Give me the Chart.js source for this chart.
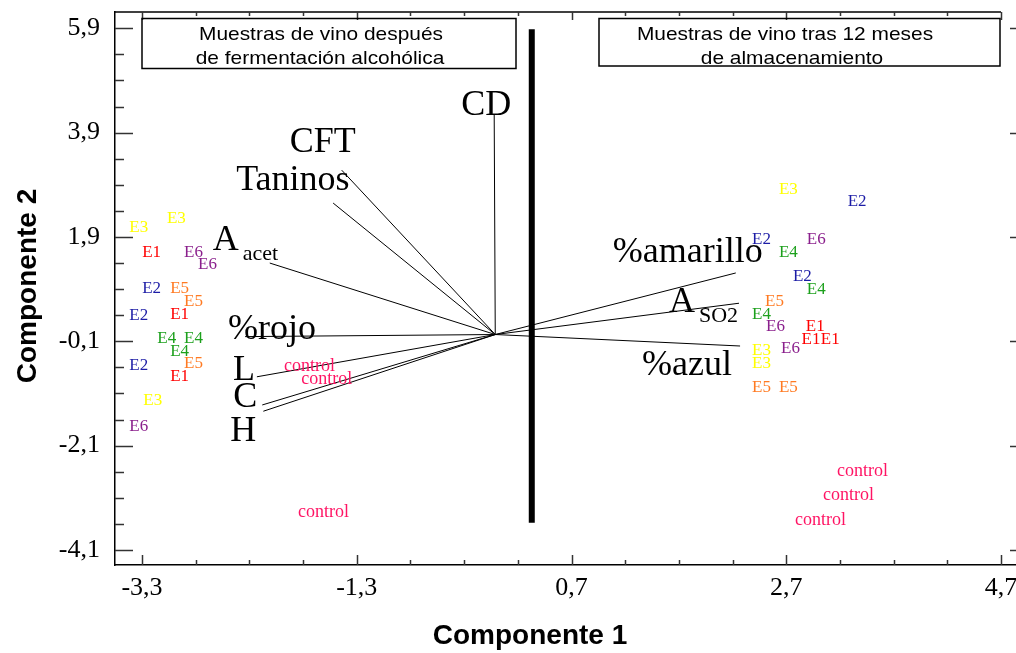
<!DOCTYPE html>
<html>
<head>
<meta charset="utf-8">
<script src="https://cdn.jsdelivr.net/npm/chart.js@4.4.1/dist/chart.umd.min.js"></script>
<style>
  html, body { margin: 0; padding: 0; background: #fff; overflow: hidden; }
  #wrap { width: 1045px; height: 653px; }
</style>
</head>
<body>
<div id="wrap"><canvas id="biplot" width="1045" height="653"></canvas></div>
<script>
// Biplot of the two principal components: wine samples as text labels,
// variable loadings as lines from the origin, and a divider between the
// post-fermentation and 12-month storage groups.

const xTicks = [-3.3, -1.3, 0.7, 2.7, 4.7];
const yTicks = [-4.1, -2.1, -0.1, 1.9, 3.9, 5.9];

const sampleLabels = [
  'E3', 'E3', 'E1', 'E6', 'E6', 'E2', 'E5', 'E5', 'E1', 'E2', 'E4', 'E4', 'E4', 'E5', 'E2', 'E1', 'E3', 'E6',
  'control', 'control', 'control',
  'E3', 'E2', 'E2', 'E6', 'E4', 'E2', 'E4', 'E5', 'E4', 'E6', 'E1', 'E1', 'E1', 'E6', 'E3', 'E3', 'E5', 'E5',
  'control', 'control', 'control'
];
const sampleX = [
  -3.33, -2.98, -3.21, -2.82, -2.69, -3.21, -2.95, -2.82, -2.95, -3.33, -3.07, -2.82, -2.95, -2.82, -3.33, -2.95, -3.20, -3.33,
  -1.74, -1.58, -1.61,
  2.72, 3.36, 2.47, 2.98, 2.72, 2.85, 2.98, 2.59, 2.47, 2.60, 2.97, 2.93, 3.11, 2.74, 2.47, 2.47, 2.47, 2.72,
  3.41, 3.28, 3.02
];
const sampleY = [
  2.09, 2.25, 1.61, 1.61, 1.38, 0.92, 0.92, 0.67, 0.42, 0.40, -0.04, -0.04, -0.29, -0.52, -0.57, -0.77, -1.24, -1.74,
  -0.57, -0.82, -3.37,
  2.80, 2.57, 1.86, 1.86, 1.61, 1.15, 0.90, 0.67, 0.42, 0.19, 0.19, -0.06, -0.06, -0.23, -0.27, -0.52, -0.99, -0.99,
  -2.59, -3.05, -3.53
];

const vectorOrigin = [-0.01, 0.03];
const vectorNames = ['CD', 'CFT', 'Taninos', 'A_acet', '%rojo', 'L', 'C', 'H', '%amarillo', 'A_SO2', '%azul'];
const vectorX = [-0.02, -1.44, -1.52, -2.11, -2.34, -2.23, -2.18, -2.17, 2.23, 2.26, 2.27];
const vectorY = [4.24, 3.18, 2.55, 1.40, -0.01, -0.78, -1.32, -1.44, 1.21, 0.63, -0.19];

const dividerX = 0.33;
const dividerY = [5.88, -3.58];

const boxLeftText = ['Muestras de vino después', 'de fermentación alcohólica'];
const boxRightText = ['Muestras de vino tras 12 meses', 'de almacenamiento'];

const X_MIN = -3.5515, X_MAX = 4.9515;
const Y_MIN = -4.3875, Y_MAX = 6.212;

const GROUP_COLORS = {
  E1: '#ff0000', E2: '#1c1ca6', E3: '#ffff00', E4: '#1ca01c',
  E5: '#ff7a22', E6: '#8a1f8c', control: '#ff1464'
};

// label placement relative to the loading's end point, in pixels (left, baseline)
const VECTOR_LABEL_AT = {
  'CD': [-33, 0], 'CFT': [-52, -18], 'Taninos': [-97, -13], 'A_acet': [-57, -13],
  '%rojo': [-17, 2], 'L': [-24, 3], 'C': [-29, 2], 'H': [-33, 30],
  '%amarillo': [-123, -11], 'A_SO2': [-70, 9], '%azul': [-98, 29]
};

const SERIF = '"Liberation Serif", "Times New Roman", serif';
const SANS = '"Liberation Sans", Arial, sans-serif';

const fmt = (v) => Number(v).toFixed(1).replace('.', ',');

const datasets = [];
datasets.push({
  label: 'samples',
  data: sampleX.map((x, i) => ({ x, y: sampleY[i] })),
  pointRadius: 0,
  showLine: false
});
vectorNames.forEach((name, i) => {
  datasets.push({
    label: name,
    data: [{ x: vectorOrigin[0], y: vectorOrigin[1] }, { x: vectorX[i], y: vectorY[i] }],
    showLine: true,
    borderColor: '#000',
    borderWidth: 1,
    pointRadius: 0
  });
});
datasets.push({
  label: 'divider',
  data: dividerY.map((y) => ({ x: dividerX, y })),
  showLine: true,
  borderColor: '#000',
  borderWidth: 6,
  borderCapStyle: 'butt',
  pointRadius: 0
});

function line(ctx, x1, y1, x2, y2) {
  ctx.beginPath();
  ctx.moveTo(x1, y1);
  ctx.lineTo(x2, y2);
  ctx.stroke();
}

// text drawn slightly widened, as in the source figure
function wideText(ctx, text, x, y, stretch) {
  ctx.save();
  ctx.translate(x, y);
  ctx.scale(stretch, 1);
  ctx.fillText(text, 0, 0);
  ctx.restore();
}

const biplotPlugin = {
  id: 'biplot-decor',
  afterDraw(chart) {
    const { ctx, chartArea: a } = chart;
    const xs = chart.scales.x;
    const ys = chart.scales.y;
    ctx.save();

    // top frame line stops at the last major tick
    const xEnd = xs.getPixelForValue(xTicks[xTicks.length - 1]);
    ctx.strokeStyle = '#000';
    ctx.lineWidth = 1.5;
    line(ctx, a.left, a.top, xEnd, a.top);

    // inward tick marks, majors every 2 units and minors every 0.5
    ctx.strokeStyle = '#333';
    ctx.lineWidth = 1.5;
    for (let k = 0; k <= 16; k++) {
      const v = xTicks[0] + k * 0.5;
      const px = Math.round(xs.getPixelForValue(v)) + 0.5;
      const major = k % 4 === 0;
      line(ctx, px, a.bottom, px, a.bottom - (major ? 10 : 5));
      line(ctx, px, a.top, px, a.top + (major ? 8 : 4));
    }
    for (let k = 0; k <= 20; k++) {
      const v = yTicks[0] + k * 0.5;
      const py = Math.round(ys.getPixelForValue(v)) + 0.5;
      const major = k % 4 === 0;
      line(ctx, a.left, py, a.left + (major ? 18 : 9), py);
      line(ctx, a.right, py, a.right - (major ? 18 : 9), py);
    }

    // sample labels at their points
    const meta = chart.getDatasetMeta(0);
    ctx.textAlign = 'center';
    ctx.textBaseline = 'middle';
    meta.data.forEach((el, i) => {
      const name = sampleLabels[i];
      ctx.fillStyle = GROUP_COLORS[name];
      ctx.font = (name === 'control' ? '18px ' : '17px ') + SERIF;
      ctx.fillText(name, el.x, el.y);
    });

    // loading labels
    ctx.fillStyle = '#000';
    ctx.textAlign = 'left';
    ctx.textBaseline = 'alphabetic';
    vectorNames.forEach((name, i) => {
      const end = chart.getDatasetMeta(i + 1).data[1];
      const [dx, dy] = VECTOR_LABEL_AT[name];
      const lx = end.x + dx, ly = end.y + dy;
      const parts = name.split('_');
      ctx.font = '36px ' + SERIF;
      ctx.fillText(parts[0], lx, ly);
      if (parts[1]) {
        const w = ctx.measureText(parts[0]).width;
        ctx.font = '22px ' + SERIF;
        ctx.fillText(parts[1], lx + w + 4, ly + 10);
      }
    });

    // group boxes
    ctx.strokeStyle = '#000';
    ctx.lineWidth = 1.5;
    ctx.strokeRect(142, 18.5, 374, 50);
    ctx.strokeRect(599, 18.5, 401, 47.5);
    ctx.font = '19px ' + SANS;
    ctx.textAlign = 'center';
    ctx.fillStyle = '#000';
    wideText(ctx, boxLeftText[0], 321, 39.5, 1.1);
    wideText(ctx, boxLeftText[1], 320, 63.5, 1.1);
    wideText(ctx, boxRightText[0], 785, 39.5, 1.1);
    wideText(ctx, boxRightText[1], 792, 63.5, 1.1);

    // axis titles
    ctx.font = 'bold 28px ' + SANS;
    ctx.textBaseline = 'middle';
    ctx.fillText('Componente 1', 530, 636);
    ctx.translate(28, 286);
    ctx.rotate(-Math.PI / 2);
    ctx.fillText('Componente 2', 0, 0);

    ctx.restore();
  }
};

const tickFont = { family: SERIF, size: 26 };

new Chart(document.getElementById('biplot'), {
  type: 'scatter',
  data: { datasets },
  options: {
    responsive: false,
    animation: false,
    events: [],
    layout: { padding: { left: 0, right: 17, top: 12, bottom: 0 } },
    plugins: { legend: { display: false }, tooltip: { enabled: false } },
    scales: {
      x: {
        type: 'linear', min: X_MIN, max: X_MAX,
        afterBuildTicks: (s) => { s.ticks = xTicks.map((value) => ({ value })); },
        afterFit: (s) => { s.height = 88; s.paddingLeft = 0; s.paddingRight = 0; },
        grid: { display: false, drawTicks: false },
        border: { display: true, color: '#000', width: 1.5 },
        ticks: { font: tickFont, color: '#000', padding: 8, maxRotation: 0, autoSkip: false, callback: fmt }
      },
      y: {
        type: 'linear', min: Y_MIN, max: Y_MAX,
        afterBuildTicks: (s) => { s.ticks = yTicks.map((value) => ({ value })); },
        afterFit: (s) => { s.width = 115; s.paddingTop = 0; s.paddingBottom = 0; },
        grid: { display: false, drawTicks: false },
        border: { display: true, color: '#000', width: 1.5 },
        ticks: { font: tickFont, color: '#000', padding: 15, autoSkip: false, callback: fmt }
      }
    }
  },
  plugins: [biplotPlugin]
});
</script>
</body>
</html>
